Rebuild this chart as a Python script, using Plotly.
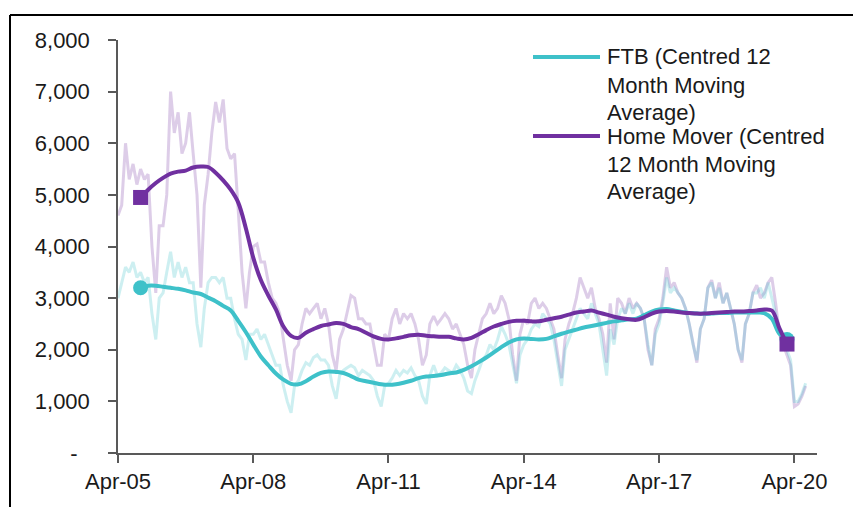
import pandas as pd
import plotly.graph_objects as go

# monthly raw completions, Apr-05 onwards
hm_raw = [
    4600, 4800, 6000, 5300, 5600, 5200, 5500, 5300, 5400, 4000, 3100, 4400,
    4400, 5000, 7000, 6200, 6600, 5800, 6000, 6600, 5800, 5000, 3200, 4800,
    5400, 6200, 6800, 6400, 6850, 5900, 5700, 5800, 4700, 3500, 2800, 3500,
    4000, 4050, 3700, 3700, 3300, 3000, 2900, 2700, 2200, 1700, 1400, 2000,
    2100, 2500, 2800, 2700, 2800, 2900, 2600, 2800, 2500, 1900, 1600, 2200,
    2400, 2700, 3050, 3000, 2600, 2600, 2500, 2500, 2100, 1700, 1700, 2300,
    2200, 2600, 2800, 2500, 2700, 2600, 2700, 2500, 2200, 1700, 1900, 2500,
    2650, 2500, 2600, 2700, 2600, 2400, 2500, 2300, 2100, 1700, 1450, 2000,
    2300, 2600, 2700, 2900, 2700, 2800, 3050, 2900, 2600, 1900, 1400, 2300,
    2600, 2500, 2900, 3000, 2800, 2900, 2800, 2600, 2400, 1900, 1450, 2200,
    2500, 2700, 3000, 3400, 3200, 3000, 3200, 2800, 2600, 2300, 1750, 2900,
    2200, 3000, 2900, 2700, 3000, 2800, 2900, 2800, 2600, 2000, 1700, 2400,
    2600, 3000, 3600, 3200, 3300, 3100, 3000, 2800, 2500, 2100, 1750, 2400,
    2600, 3200, 3350, 3000, 3300, 2900, 3100, 2800, 2500, 2000, 1750, 2500,
    2700, 3100, 3250, 3000, 3100, 3300, 3400, 2900, 2300, 2100, 1900, 1700,
    900, 950, 1100, 1300,
]
ftb_raw = [
    3000, 3300, 3600, 3500, 3700, 3400, 3500, 3300, 3400, 2700, 2200, 3000,
    3100, 3500, 3900, 3400, 3700, 3400, 3600, 3300, 3300, 2500, 2050, 2800,
    3300, 3400, 3400, 3300, 3400, 3000, 3000, 2600, 2300, 2200, 1800, 2300,
    2300, 2400, 2200, 2300, 2100, 1900, 1700, 1700, 1300, 1000, 780, 1300,
    1400, 1600, 1750, 1700, 1850, 1900, 1800, 1800, 1700, 1300, 1050, 1500,
    1600, 1650, 1700, 1650, 1500, 1600, 1550, 1500, 1400, 1100, 900, 1300,
    1350, 1450, 1600, 1500, 1600, 1550, 1650, 1500, 1400, 1100, 950, 1500,
    1700, 1500, 1550, 1650, 1600, 1550, 1700, 1600, 1450, 1200, 1150, 1400,
    1600, 1800, 1900, 2100, 2000, 2200, 2450, 2300, 2100, 1700, 1350, 1900,
    2100, 2200, 2400, 2500, 2450, 2700, 2600, 2500, 2200, 1700, 1300, 2000,
    2200, 2400, 2600, 2800, 2700, 2600, 2900, 2700, 2500, 2000, 1500, 2400,
    2100, 2600, 2800, 2700, 2900, 2700, 2900, 2800, 2600, 2100, 1700, 2300,
    2500, 2900, 3400, 3100, 3200, 3100, 3000, 2800, 2500, 2100, 1800, 2400,
    2600, 3200, 3300, 3000, 3200, 2900, 3100, 2800, 2500, 2000, 1800, 2500,
    2700, 3100, 3100, 3200, 3000, 3300, 3000, 2700, 2400, 2200, 2000, 1800,
    1000, 1000, 1150, 1350,
]

# centred 12 month moving averages, every 2 months from Oct-05
hm_ma = [
    4950, 5100, 5230, 5330, 5410, 5450, 5470, 5530, 5550, 5540, 5430, 5280,
    5100, 4850, 4350, 3780, 3350, 3050, 2780, 2450, 2270, 2230, 2330, 2400,
    2460, 2490, 2520, 2500, 2440, 2400, 2330, 2260, 2210, 2200, 2220, 2250,
    2280, 2290, 2270, 2260, 2250, 2250, 2220, 2200, 2230, 2300, 2380, 2450,
    2500, 2540, 2560, 2560, 2550, 2550, 2580, 2610, 2640, 2680, 2720, 2740,
    2760, 2720, 2680, 2640, 2610, 2590, 2580, 2630, 2700, 2740, 2750, 2740,
    2720, 2710, 2700, 2700, 2710, 2720, 2730, 2740, 2740, 2750, 2760, 2780,
    2760, 2420, 2110,
]
ftb_ma = [
    3200, 3240, 3240, 3220, 3200, 3180, 3150, 3110, 3080, 3010, 2940, 2850,
    2760, 2560, 2340, 2100, 1870, 1700, 1540, 1420, 1340, 1330, 1390, 1480,
    1550, 1580, 1570, 1550, 1490, 1420, 1390, 1360, 1330, 1320, 1330, 1360,
    1400, 1450, 1480, 1490, 1510, 1540, 1560, 1610, 1680, 1760, 1850, 1950,
    2050, 2140, 2200, 2220, 2210, 2200, 2210, 2260, 2310, 2350, 2390, 2430,
    2460, 2490, 2520, 2550, 2570, 2590, 2600, 2670, 2740, 2780, 2790, 2760,
    2730, 2710, 2700, 2700, 2700, 2710, 2710, 2720, 2720, 2720, 2720, 2710,
    2600, 2310, 2200,
]

x_tick_vals = ["2005-04-01", "2008-04-01", "2011-04-01", "2014-04-01", "2017-04-01", "2020-04-01"]
x_tick_text = ["Apr-05", "Apr-08", "Apr-11", "Apr-14", "Apr-17", "Apr-20"]
y_tick_vals = [0, 1000, 2000, 3000, 4000, 5000, 6000, 7000, 8000]
y_tick_text = ["-\u00a0\u00a0"] + [f"{v:,}" for v in y_tick_vals[1:]]

raw_dates = pd.date_range("2005-04-01", periods=len(hm_raw), freq="MS")
ma_dates = pd.date_range("2005-10-01", periods=len(hm_ma), freq="2MS")

TEAL = "#3EC1C9"
PURPLE = "#7030A0"
FONT = "Liberation Sans, Arial, sans-serif"

fig = go.Figure()
fig.add_trace(go.Scatter(x=raw_dates, y=hm_raw, mode="lines",
                         line=dict(color="rgba(112,48,160,0.24)", width=3), showlegend=False))
fig.add_trace(go.Scatter(x=raw_dates, y=ftb_raw, mode="lines",
                         line=dict(color="rgba(62,193,201,0.26)", width=3), showlegend=False))
fig.add_trace(go.Scatter(x=ma_dates, y=ftb_ma, mode="lines", line_shape="spline",
                         line=dict(color=TEAL, width=4), showlegend=False))
fig.add_trace(go.Scatter(x=[ma_dates[0], ma_dates[-1]], y=[ftb_ma[0], ftb_ma[-1]], mode="markers",
                         marker=dict(color=TEAL, size=15, symbol="circle"), showlegend=False))
fig.add_trace(go.Scatter(x=ma_dates, y=hm_ma, mode="lines", line_shape="spline",
                         line=dict(color=PURPLE, width=4), showlegend=False))
fig.add_trace(go.Scatter(x=[ma_dates[0], ma_dates[-1]], y=[hm_ma[0], hm_ma[-1]], mode="markers",
                         marker=dict(color=PURPLE, size=15, symbol="square"), showlegend=False))

# page has an 8px body margin, so figure coords = screen coords - 8
OFF = 8
L, R, T, B = 118 - OFF, 817 - OFF, 40 - OFF, 453 - OFF
def px(x):
    return (x - OFF - L) / (R - L)
def py(y):
    return (B - (y - OFF)) / (B - T)

shapes = [
    dict(type="line", xref="paper", yref="paper", x0=px(10), x1=px(875), y0=py(15), y1=py(15),
         line=dict(color="black", width=2)),
    dict(type="line", xref="paper", yref="paper", x0=px(10), x1=px(10), y0=py(15), y1=py(520),
         line=dict(color="black", width=2)),
    dict(type="line", xref="paper", yref="paper", x0=px(533), x1=px(600), y0=py(57), y1=py(57),
         line=dict(color=TEAL, width=4)),
    dict(type="line", xref="paper", yref="paper", x0=px(533), x1=px(600), y0=py(136), y1=py(136),
         line=dict(color=PURPLE, width=4)),
]
legend_lines = [
    ("FTB (Centred 12", 57), ("Month Moving", 85), ("Average)", 112),
    ("Home Mover (Centred", 136), ("12 Month Moving", 164), ("Average)", 192),
]
annotations = [
    dict(text=t, xref="paper", yref="paper", x=px(605), y=py(yy), xanchor="left", yanchor="middle",
         showarrow=False, font=dict(family=FONT, size=22, color="#1a1a1a"))
    for t, yy in legend_lines
]

axis_common = dict(showgrid=False, zeroline=False, showline=True, linecolor="#595959", linewidth=1.5,
                   ticks="outside", ticklen=8, tickcolor="#595959", tickwidth=1.5,
                   tickfont=dict(family=FONT, size=22, color="#1a1a1a"))
fig.update_xaxes(type="date", range=["2005-04-01", "2020-10-01"],
                 tickvals=x_tick_vals, ticktext=x_tick_text, **axis_common)
fig.update_yaxes(range=[0, 8000], tickvals=y_tick_vals, ticktext=y_tick_text,
                 ticklabelstandoff=14, **axis_common)

fig.update_layout(
    width=861, height=507,
    margin=dict(l=L, r=861 - R, t=T, b=507 - B),
    paper_bgcolor="white", plot_bgcolor="white",
    shapes=shapes, annotations=annotations,
    showlegend=False,
)

fig.write_html("out.html")
